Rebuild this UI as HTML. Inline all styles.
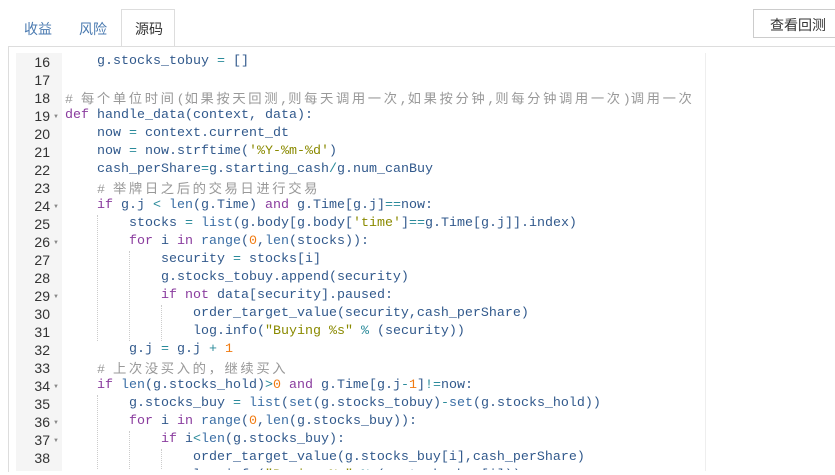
<!DOCTYPE html>
<html><head><meta charset="utf-8"><style>
body{margin:0;width:835px;height:475px;background:#fff;position:relative;overflow:hidden;font-family:"Liberation Sans","Noto Sans CJK SC",sans-serif}
.tab{position:absolute;top:19px;font-size:14px;color:#4a7ab0}
.act{position:absolute;left:121px;top:9px;width:54px;height:38px;border:1px solid #ddd;border-bottom:none;background:#fff;box-sizing:border-box}
.bar{position:absolute;left:8px;right:0;top:46px;border-top:1px solid #ddd}
.btn{position:absolute;left:753px;top:9px;width:90px;height:29px;border:1px solid #ccc;box-sizing:border-box;font-size:14px;color:#333;padding:5px 0 0 16px}
.frame{position:absolute;left:8px;top:47px;width:0;height:425px;border-left:1px solid #ddd}
.gut{position:absolute;left:16px;top:53px;width:46px;height:418px;background:#f5f5f5}
.margin{position:absolute;left:705px;top:53px;height:418px;border-left:1px solid #eee}
.ed{position:absolute;left:0;top:0;width:835px;height:470px;overflow:hidden}
.l{position:absolute;left:65px;height:18px;line-height:18px;white-space:pre;font-family:"Liberation Mono","Noto Sans CJK SC",monospace;font-size:13.33px;color:#31598c}
.n{position:absolute;left:16px;width:34px;text-align:right;height:18px;line-height:18px;font-size:14px;color:#333;font-family:"Liberation Sans",sans-serif}
.f{position:absolute;left:53px;font-size:6px;color:#888}
.k{color:#8a3c9e}.s{color:#8a8a00}.d{color:#f07a10}.o{color:#2a8a9a}.b{color:#3a6ea5}
.c{color:#999}.cj{letter-spacing:2.6px;font-family:"Noto Sans CJK SC",sans-serif;font-size:13.33px}
.g{position:absolute;width:0;height:18px;border-left:1px dotted #ccc}
</style></head><body>
<span class="tab" style="left:24px">收益</span>
<div class="act"></div>
<span class="tab" style="left:79px">风险</span>
<span class="tab" style="left:135px;color:#333">源码</span>
<div class="bar"></div>
<div class="btn">查看回测</div>
<div class="frame"></div>
<div class="gut"></div>
<div class="margin"></div>
<div class="ed">
<div class="n" style="top:53px">16</div><div class="l" style="top:53px">    g.stocks_tobuy <span class="o">=</span> []</div>
<div class="n" style="top:71px">17</div>
<div class="n" style="top:89px">18</div><div class="l c" style="top:89px"># <span class="cj">每个单位时间</span>(<span class="cj">如果按天回测</span>,<span class="cj">则每天调用一次</span>,<span class="cj">如果按分钟</span>,<span class="cj">则每分钟调用一次</span>)<span class="cj">调用一次</span></div>
<div class="n" style="top:107px">19</div><div class="f" style="top:114px">▼</div><div class="l" style="top:107px"><span class="k">def</span> handle_data(context, data):</div>
<div class="n" style="top:125px">20</div><div class="l" style="top:125px">    now <span class="o">=</span> context.current_dt</div>
<div class="n" style="top:143px">21</div><div class="l" style="top:143px">    now <span class="o">=</span> now.strftime(<span class="s">'%Y-%m-%d'</span>)</div>
<div class="n" style="top:161px">22</div><div class="l" style="top:161px">    cash_perShare<span class="o">=</span>g.starting_cash<span class="o">/</span>g.num_canBuy</div>
<div class="n" style="top:179px">23</div><div class="l c" style="top:179px">    # <span class="cj">举牌日之后的交易日进行交易</span></div>
<div class="n" style="top:197px">24</div><div class="f" style="top:204px">▼</div><div class="l" style="top:197px">    <span class="k">if</span> g.j <span class="o">&lt;</span> <span class="b">len</span>(g.Time) <span class="k">and</span> g.Time[g.j]<span class="o">==</span>now:</div>
<div class="n" style="top:215px">25</div><div class="l" style="top:215px">        stocks <span class="o">=</span> <span class="b">list</span>(g.body[g.body[<span class="s">'time'</span>]<span class="o">==</span>g.Time[g.j]].index)</div>
<div class="n" style="top:233px">26</div><div class="f" style="top:240px">▼</div><div class="l" style="top:233px">        <span class="k">for</span> i <span class="k">in</span> <span class="b">range</span>(<span class="d">0</span>,<span class="b">len</span>(stocks)):</div>
<div class="n" style="top:251px">27</div><div class="l" style="top:251px">            security <span class="o">=</span> stocks[i]</div>
<div class="n" style="top:269px">28</div><div class="l" style="top:269px">            g.stocks_tobuy.append(security)</div>
<div class="n" style="top:287px">29</div><div class="f" style="top:294px">▼</div><div class="l" style="top:287px">            <span class="k">if</span> <span class="k">not</span> data[security].paused:</div>
<div class="n" style="top:305px">30</div><div class="l" style="top:305px">                order_target_value(security,cash_perShare)</div>
<div class="n" style="top:323px">31</div><div class="l" style="top:323px">                log.info(<span class="s">"Buying %s"</span> <span class="o">%</span> (security))</div>
<div class="n" style="top:341px">32</div><div class="l" style="top:341px">        g.j <span class="o">=</span> g.j <span class="o">+</span> <span class="d">1</span></div>
<div class="n" style="top:359px">33</div><div class="l c" style="top:359px">    # <span class="cj">上次没买入的，继续买入</span></div>
<div class="n" style="top:377px">34</div><div class="f" style="top:384px">▼</div><div class="l" style="top:377px">    <span class="k">if</span> <span class="b">len</span>(g.stocks_hold)<span class="o">&gt;</span><span class="d">0</span> <span class="k">and</span> g.Time[g.j<span class="o">-</span><span class="d">1</span>]<span class="o">!=</span>now:</div>
<div class="n" style="top:395px">35</div><div class="l" style="top:395px">        g.stocks_buy <span class="o">=</span> <span class="b">list</span>(<span class="b">set</span>(g.stocks_tobuy)<span class="o">-</span><span class="b">set</span>(g.stocks_hold))</div>
<div class="n" style="top:413px">36</div><div class="f" style="top:420px">▼</div><div class="l" style="top:413px">        <span class="k">for</span> i <span class="k">in</span> <span class="b">range</span>(<span class="d">0</span>,<span class="b">len</span>(g.stocks_buy)):</div>
<div class="n" style="top:431px">37</div><div class="f" style="top:438px">▼</div><div class="l" style="top:431px">            <span class="k">if</span> i<span class="o">&lt;</span><span class="b">len</span>(g.stocks_buy):</div>
<div class="n" style="top:449px">38</div><div class="l" style="top:449px">                order_target_value(g.stocks_buy[i],cash_perShare)</div>
<div class="n" style="top:467px">39</div><div class="l" style="top:467px">                log.info(<span class="s">"Buying %s"</span> <span class="o">%</span> (g.stocks_buy[i]))</div>
<div class="g" style="left:97px;top:215px;height:126px"></div>
<div class="g" style="left:129px;top:251px;height:90px"></div>
<div class="g" style="left:161px;top:305px;height:36px"></div>
<div class="g" style="left:97px;top:395px;height:80px"></div>
<div class="g" style="left:129px;top:431px;height:44px"></div>
<div class="g" style="left:161px;top:449px;height:26px"></div>
</div>
</body></html>
